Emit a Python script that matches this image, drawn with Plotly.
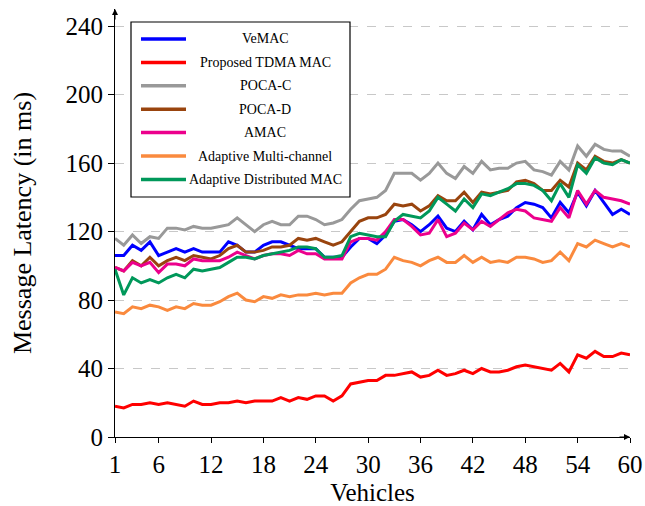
import plotly.graph_objects as go

vehicles = list(range(1, 61))

series_names = ["VeMAC", "Proposed TDMA MAC", "POCA-C", "POCA-D", "AMAC",
                "Adaptive Multi-channel", "Adaptive Distributed MAC"]
series_colors = ["#0000FF", "#FF0000", "#999999", "#99440E", "#EC008C",
                 "#FA8A3E", "#00985A"]

vemac = [106,106,112,109,114,106,108,110,108,110,
         108,108,108,114,112,108,108,112,114,114,
         112,110,110,110,105,105,105,111,116,116,
         113,118,126,127,124,120,124,129,122,120,
         126,121,130,124,127,129,134,137,136,134,
         128,137,131,143,135,144,137,130,133,130]
tdma = [18,17,19,19,20,19,20,19,18,21,
        19,19,20,20,21,20,21,21,21,23,
        21,23,22,24,24,21,24,31,32,33,
        33,36,36,37,38,35,36,39,36,37,
        39,37,40,38,38,39,41,42,41,40,
        39,43,38,48,46,50,47,47,49,48]
poca_c = [116,112,118,113,117,116,122,122,121,123,
          122,122,123,124,128,124,120,124,126,124,
          124,129,129,127,124,125,127,133,138,139,
          140,144,154,154,154,150,154,160,154,151,
          158,154,161,156,157,157,160,161,156,155,
          153,161,156,170,164,171,168,167,167,164]
poca_d = [99,97,103,100,105,100,103,105,103,106,
          105,104,106,110,112,108,108,109,111,111,
          112,116,115,116,114,112,114,120,126,128,
          128,130,136,135,136,132,135,141,138,138,
          143,137,143,142,143,144,149,150,148,144,
          144,150,146,160,156,164,161,160,162,160]
amac = [99,97,102,100,102,96,101,101,100,104,
        103,103,103,105,108,106,104,106,107,107,
        106,109,107,107,104,104,104,114,116,116,
        115,120,127,127,123,118,119,127,117,119,
        125,121,126,123,127,131,133,132,128,127,
        126,134,128,144,136,144,140,139,138,136]
multi = [73,72,76,75,77,76,74,76,75,78,
         77,77,79,82,84,80,79,82,81,83,
         82,83,83,84,83,84,84,90,93,95,
         95,98,105,103,102,100,103,105,102,102,
         106,102,105,102,103,102,105,105,104,102,
         103,108,103,113,111,115,113,111,113,111]
adm = [98,83,93,90,92,90,93,95,93,98,
       97,98,99,102,105,105,104,106,107,108,
       109,111,111,110,105,105,106,117,119,118,
       117,117,126,130,129,128,132,140,136,132,
       139,134,142,141,143,145,148,148,147,144,
       138,148,140,159,154,163,160,159,162,160]

all_series = [vemac, tdma, poca_c, poca_d, amac, multi, adm]

x_ticks = [1, 6, 12, 18, 24, 30, 36, 42, 48, 54, 60]
y_ticks = [0, 40, 80, 120, 160, 200, 240]

FONT = "Liberation Serif"

fig = go.Figure()
for name, col, vals in zip(series_names, series_colors, all_series):
    fig.add_trace(go.Scatter(x=vehicles, y=vals, mode="lines", name=name,
                             line=dict(color=col, width=3), showlegend=False))

# Custom legend (centered text, as in the reference)
L, W, T, H = 115, 515, 9, 428
def px(x): return (x - L) / W
def py(y): return (T + H - y) / H

shapes = [dict(type="rect", xref="paper", yref="paper",
               x0=px(131), x1=px(350), y0=py(197), y1=py(22),
               line=dict(color="black", width=1.2), fillcolor="white", layer="above")]
annotations = []
for k, (name, col) in enumerate(zip(series_names, series_colors)):
    yy = 39 + k * 23.4
    shapes.append(dict(type="line", xref="paper", yref="paper",
                       x0=px(141), x1=px(186), y0=py(yy), y1=py(yy),
                       line=dict(color=col, width=3.5), layer="above"))
    annotations.append(dict(xref="paper", yref="paper", x=px(265), y=py(yy),
                            text=name, showarrow=False, xanchor="center", yanchor="middle",
                            font=dict(family=FONT, size=14, color="black")))

# axis arrows
annotations.append(dict(xref="paper", yref="paper", x=0, y=1, ax=0, ay=12,
                        axref="pixel", ayref="pixel", text="", showarrow=True,
                        arrowhead=2, arrowsize=1.2, arrowwidth=1, arrowcolor="black"))
annotations.append(dict(xref="paper", yref="paper", x=1, y=0, ax=-12, ay=0,
                        axref="pixel", ayref="pixel", text="", showarrow=True,
                        arrowhead=2, arrowsize=1.2, arrowwidth=1, arrowcolor="black"))

fig.update_layout(
    width=645, height=506,
    margin=dict(l=115, r=15, t=9, b=69),
    plot_bgcolor="white", paper_bgcolor="white",
    font=dict(family=FONT, size=25, color="black"),
    shapes=shapes, annotations=annotations,
    xaxis=dict(range=[1, 60], tickvals=x_ticks, ticks="outside", ticklen=5,
               tickcolor="black", showline=True, linecolor="black", linewidth=1,
               showgrid=False, zeroline=False, automargin=False,
               title=dict(text="Vehicles", font=dict(family=FONT, size=25), standoff=15),
               tickfont=dict(family=FONT, size=25)),
    yaxis=dict(range=[0, 250], tickvals=y_ticks, ticks="outside", ticklen=6,
               tickcolor="black", showline=True, linecolor="black", linewidth=1,
               showgrid=True, gridcolor="#c8c8c8", griddash="dash", gridwidth=1,
               zeroline=False, automargin=False,
               title=dict(text="Message Latency (in ms)", font=dict(family=FONT, size=26), standoff=26),
               tickfont=dict(family=FONT, size=25)),
)

fig.write_html("out.html")
